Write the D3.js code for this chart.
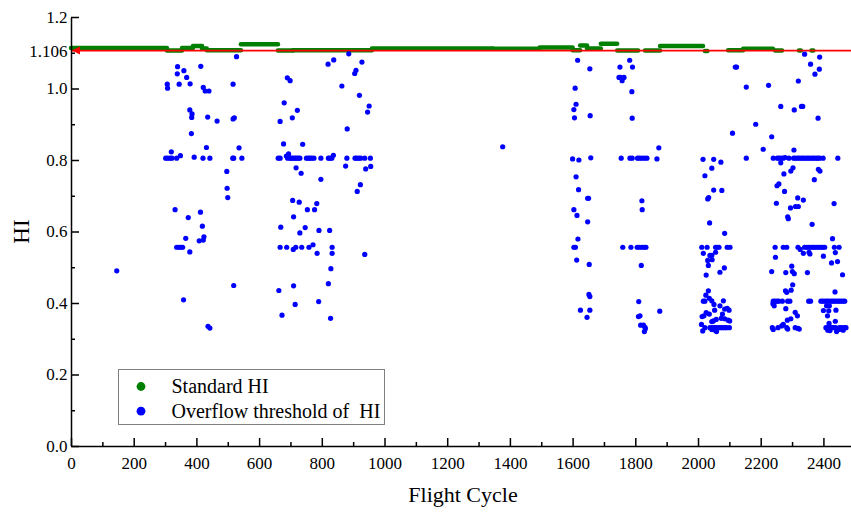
<!DOCTYPE html>
<html>
<head>
<meta charset="utf-8">
<script src="https://cdn.jsdelivr.net/npm/d3@7"></script>
<style>
  body { margin: 0; background: #fff; }
  text { font-family: "Liberation Serif", "Times New Roman", serif; fill: #000; }
</style>
</head>
<body>
<svg id="chart" width="851" height="512"></svg>
<script>
// DATA --------------------------------------------------------------------------
const threshold = 1.106;
const yMajorTicks = [0, 0.2, 0.4, 0.6, 0.8, 1.0, 1.2];
const yMinorTicks = [0.1, 0.3, 0.5, 0.7, 0.9, 1.1];
const xMajorTicks = [0, 200, 400, 600, 800, 1000, 1200, 1400, 1600, 1800, 2000, 2200, 2400];
const xMinorTicks = [100, 300, 500, 700, 900, 1100, 1300, 1500, 1700, 1900, 2100, 2300];
const legendLabels = ["Standard HI", "Overflow threshold of  HI"];

// Standard HI: dense runs of points, read as [from cycle, to cycle, HI]
const standardHI = [
  [0, 306, 1.113], [306, 354, 1.106], [354, 389, 1.113], [389, 418, 1.119],
  [418, 433, 1.112], [433, 542, 1.107], [542, 660, 1.124], [660, 708, 1.106],
  [708, 960, 1.107], [960, 1345, 1.112], [1345, 1495, 1.111], [1495, 1600, 1.115],
  [1600, 1624, 1.107], [1624, 1646, 1.120], [1646, 1690, 1.112], [1690, 1742, 1.125],
  [1742, 1809, 1.106], [1831, 1879, 1.106], [1879, 2016, 1.119], [2022, 2030, 1.105],
  [2096, 2144, 1.107], [2144, 2239, 1.111], [2246, 2268, 1.106], [2322, 2328, 1.106],
  [2362, 2368, 1.106]
];

// Overflow threshold of HI, one array per group of flight cycles: [cycle, HI]
const overflowA = [
  [146, 0.490], [528, 1.089], [340, 1.061], [414, 1.062], [360, 1.050], [339, 1.041],
  [369, 1.031], [307, 1.012], [308, 1.001], [345, 1.012], [380, 1.013], [517, 1.012],
  [422, 1.003], [428, 0.993], [440, 0.993], [379, 0.940], [386, 0.929], [385, 0.919],
  [436, 0.920], [466, 0.909], [517, 0.915], [521, 0.918], [384, 0.874], [432, 0.835],
  [320, 0.823], [536, 0.834], [349, 0.812], [302, 0.805], [308, 0.805], [316, 0.805],
  [322, 0.805], [337, 0.805], [393, 0.808], [421, 0.805], [443, 0.805], [516, 0.805],
  [519, 0.805], [545, 0.805], [497, 0.768], [498, 0.721], [500, 0.695], [332, 0.661],
  [413, 0.654], [374, 0.639], [419, 0.615], [366, 0.581], [424, 0.585], [422, 0.576],
  [409, 0.574], [337, 0.556], [344, 0.556], [350, 0.556], [356, 0.556], [379, 0.543],
  [519, 0.449], [359, 0.409], [437, 0.335], [443, 0.330]
];
const overflowB = [
  [886, 1.097], [820, 1.068], [838, 1.080], [928, 1.074], [909, 1.051], [905, 1.042],
  [690, 1.030], [699, 1.022], [864, 1.007], [920, 0.981], [680, 0.960], [951, 0.951],
  [946, 0.934], [722, 0.939], [706, 0.918], [667, 0.908], [881, 0.887], [678, 0.845],
  [739, 0.844], [694, 0.817], [687, 0.811], [837, 0.813],
  [661, 0.805], [667, 0.805], [691, 0.805], [699, 0.805], [704, 0.805], [709, 0.805],
  [715, 0.805], [720, 0.805], [725, 0.805], [730, 0.805], [751, 0.805], [757, 0.805],
  [762, 0.805], [768, 0.805], [775, 0.805], [797, 0.805], [821, 0.805], [826, 0.805],
  [832, 0.805], [880, 0.805], [906, 0.805], [911, 0.805], [918, 0.805], [924, 0.805],
  [937, 0.805], [955, 0.805],
  [718, 0.778], [734, 0.763], [876, 0.783], [956, 0.782], [940, 0.775], [797, 0.746],
  [923, 0.731], [913, 0.712], [707, 0.687], [728, 0.682], [784, 0.678], [754, 0.661],
  [777, 0.661], [710, 0.641], [669, 0.612], [747, 0.611], [730, 0.596], [791, 0.603],
  [825, 0.603], [667, 0.556], [688, 0.556], [717, 0.556], [736, 0.556], [759, 0.556],
  [833, 0.556], [709, 0.550], [772, 0.563], [785, 0.539], [833, 0.539], [937, 0.536],
  [829, 0.496], [821, 0.454], [710, 0.448], [663, 0.435], [790, 0.404], [715, 0.396],
  [673, 0.366], [828, 0.357]
];
const overflowC = [[1377, 0.837]];
const overflowD = [
  [1616, 1.079], [1655, 1.055], [1608, 1.001], [1611, 0.956], [1604, 0.941], [1606, 0.918],
  [1656, 0.924], [1600, 0.803], [1620, 0.800], [1658, 0.806], [1611, 0.753], [1619, 0.717],
  [1648, 0.693], [1651, 0.693], [1604, 0.661], [1614, 0.645], [1648, 0.627], [1617, 0.579],
  [1604, 0.556], [1609, 0.556], [1613, 0.520], [1653, 0.508], [1652, 0.424], [1655, 0.418],
  [1625, 0.380], [1655, 0.380], [1646, 0.360]
];
const overflowE = [
  [1782, 1.079], [1751, 1.060], [1791, 1.060], [1748, 1.031], [1753, 1.031], [1764, 1.031],
  [1758, 1.022], [1789, 0.991], [1790, 0.917], [1875, 0.834], [1869, 0.803],
  [1755, 0.805], [1783, 0.805], [1790, 0.805], [1807, 0.805], [1813, 0.805], [1821, 0.805],
  [1829, 0.805], [1837, 0.805], [1821, 0.686], [1822, 0.661],
  [1760, 0.556], [1786, 0.556], [1806, 0.556], [1813, 0.556], [1821, 0.556], [1828, 0.556],
  [1834, 0.556], [1819, 0.505], [1811, 0.404], [1878, 0.377], [1810, 0.362], [1815, 0.364],
  [1817, 0.338], [1826, 0.338], [1831, 0.332], [1829, 0.320], [1832, 0.328]
];
const overflowF = [
  [2119, 1.060], [2123, 1.060], [2154, 1.004], [2110, 0.875], [2016, 0.802], [2050, 0.802],
  [2073, 0.794], [2154, 0.805], [2044, 0.777], [2022, 0.756], [2050, 0.716], [2076, 0.715],
  [2031, 0.691], [2034, 0.695], [2037, 0.624], [2085, 0.595],
  [2012, 0.556], [2029, 0.556], [2056, 0.556], [2061, 0.556], [2067, 0.556], [2093, 0.556],
  [2102, 0.556], [2017, 0.539], [2056, 0.542], [2038, 0.533], [2044, 0.533], [2045, 0.521],
  [2031, 0.519], [2033, 0.505], [2084, 0.498], [2070, 0.486], [2026, 0.478],
  [2033, 0.434], [2025, 0.422], [2036, 0.413], [2044, 0.406], [2017, 0.405], [2022, 0.405],
  [2051, 0.396], [2081, 0.406], [2070, 0.392], [2093, 0.385], [2099, 0.380], [2085, 0.383],
  [2053, 0.380], [2026, 0.373], [2036, 0.369], [2078, 0.369], [2013, 0.362], [2019, 0.364],
  [2058, 0.354], [2049, 0.350], [2044, 0.348], [2074, 0.357], [2085, 0.356], [2096, 0.352],
  [2101, 0.350], [2011, 0.340], [2022, 0.331],
  [2038, 0.331], [2046, 0.331], [2053, 0.331], [2059, 0.331], [2066, 0.331], [2072, 0.331],
  [2078, 0.331], [2085, 0.331], [2091, 0.331], [2100, 0.331],
  [2051, 0.325], [2059, 0.320], [2015, 0.322], [2044, 0.326]
];
const overflowG = [
  [2340, 1.096], [2388, 1.088], [2359, 1.068], [2387, 1.054], [2373, 1.040], [2320, 1.021],
  [2225, 1.009], [2264, 0.950], [2330, 0.950], [2334, 0.950], [2307, 0.940], [2383, 0.917],
  [2184, 0.900], [2235, 0.865], [2208, 0.830], [2306, 0.828], [2278, 0.807],
  [2240, 0.805], [2253, 0.805], [2259, 0.805], [2266, 0.805], [2272, 0.805], [2290, 0.805],
  [2305, 0.805], [2311, 0.805], [2318, 0.805], [2324, 0.805], [2331, 0.805], [2337, 0.805],
  [2344, 0.805], [2350, 0.805], [2356, 0.805], [2363, 0.805], [2369, 0.805], [2376, 0.805],
  [2382, 0.805], [2388, 0.805], [2399, 0.805], [2446, 0.805],
  [2264, 0.792], [2303, 0.778], [2296, 0.769], [2384, 0.774], [2389, 0.769], [2274, 0.761],
  [2371, 0.745], [2258, 0.733], [2252, 0.728], [2276, 0.712], [2318, 0.694], [2336, 0.688],
  [2250, 0.679], [2295, 0.666], [2311, 0.670], [2320, 0.670], [2434, 0.678], [2286, 0.641],
  [2288, 0.636], [2364, 0.620],
  [2246, 0.556], [2272, 0.556], [2283, 0.556], [2319, 0.556], [2340, 0.556], [2347, 0.556],
  [2353, 0.556], [2360, 0.556], [2366, 0.556], [2372, 0.556], [2379, 0.556], [2385, 0.556],
  [2392, 0.556], [2398, 0.556], [2404, 0.556], [2435, 0.556], [2450, 0.556],
  [2326, 0.550], [2336, 0.539], [2354, 0.542], [2357, 0.537], [2429, 0.580], [2438, 0.541],
  [2400, 0.531], [2247, 0.528], [2445, 0.516], [2426, 0.512], [2235, 0.488], [2280, 0.485],
  [2299, 0.503], [2301, 0.488], [2307, 0.482], [2349, 0.485], [2461, 0.479], [2302, 0.451],
  [2279, 0.434], [2283, 0.430], [2297, 0.436], [2437, 0.431],
  [2240, 0.405], [2246, 0.405], [2252, 0.405], [2258, 0.405], [2269, 0.405], [2286, 0.405],
  [2293, 0.405], [2353, 0.405], [2359, 0.405], [2392, 0.405], [2398, 0.405], [2405, 0.405],
  [2411, 0.405], [2417, 0.405], [2424, 0.405], [2430, 0.405], [2436, 0.405], [2443, 0.405],
  [2449, 0.405], [2455, 0.405], [2462, 0.405], [2468, 0.405],
  [2239, 0.398], [2243, 0.392], [2419, 0.392], [2410, 0.392], [2400, 0.379], [2417, 0.378],
  [2440, 0.380], [2280, 0.384], [2310, 0.374], [2317, 0.364], [2413, 0.364], [2296, 0.356],
  [2285, 0.352], [2438, 0.349], [2418, 0.343], [2272, 0.340], [2255, 0.331], [2237, 0.331],
  [2240, 0.326], [2267, 0.336], [2283, 0.331], [2286, 0.327], [2310, 0.331], [2319, 0.329],
  [2323, 0.327],
  [2408, 0.331], [2414, 0.331], [2420, 0.331], [2427, 0.331], [2433, 0.331], [2439, 0.331],
  [2451, 0.331], [2458, 0.331], [2466, 0.331], [2472, 0.331],
  [2414, 0.324], [2421, 0.323], [2442, 0.320], [2450, 0.326], [2463, 0.324]
];

const overflowHI = [overflowA, overflowB, overflowC, overflowD, overflowE, overflowF, overflowG].flat();

// CHART --------------------------------------------------------------------------
const svg = d3.select("#chart");
const width = +svg.attr("width");
const margin = { top: 17, left: 71, bottom: 66 };
const height = +svg.attr("height");

const xScale = d3.scaleLinear().domain([0, 2488]).range([margin.left, width]);
const yScale = d3.scaleLinear().domain([0, 1.2]).range([height - margin.bottom, margin.top]);

const green = "#008000";
const blue = "#0000ff";

// standard HI band
svg.append("g")
    .selectAll("line")
    .data(standardHI)
    .enter()
    .append("line")
    .attr("x1", d => xScale(d[0]))
    .attr("x2", d => xScale(d[1]))
    .attr("y1", d => yScale(d[2]))
    .attr("y2", d => yScale(d[2]))
    .attr("stroke", green)
    .attr("stroke-width", 4.5)
    .attr("stroke-linecap", "round");

// threshold line + marker
svg.append("line")
    .attr("x1", xScale(0))
    .attr("x2", xScale.range()[1])
    .attr("y1", yScale(threshold))
    .attr("y2", yScale(threshold))
    .attr("stroke", "#ff0000")
    .attr("stroke-width", 1.8);

const tx = xScale(0), ty = yScale(threshold);
svg.append("path")
    .attr("d", `M${tx + 1},${ty} L${tx + 9},${ty - 4} L${tx + 9},${ty + 4} Z`)
    .attr("fill", "#ff0000");

// overflow points
svg.append("g")
    .selectAll("circle")
    .data(overflowHI)
    .enter()
    .append("circle")
    .attr("cx", d => xScale(d[0]))
    .attr("cy", d => yScale(d[1]))
    .attr("r", 2.6)
    .attr("fill", blue);

// AXES --------------------------------------------------------------------------
const axisStyle = g => {
    g.selectAll("path, line").attr("stroke", "#000").attr("stroke-width", 1.5);
    g.selectAll("text").attr("font-size", 17).attr("fill", "#000")
        .style("font-family", '"Liberation Serif", "Times New Roman", serif');
};

svg.append("g")
    .attr("transform", `translate(0,${yScale(0)})`)
    .call(d3.axisBottom(xScale).tickValues(xMajorTicks).tickSize(-8).tickSizeOuter(0)
        .tickPadding(11).tickFormat(d3.format("d")))
    .call(axisStyle);

svg.append("g")
    .attr("transform", `translate(0,${yScale(0)})`)
    .call(d3.axisBottom(xScale).tickValues(xMinorTicks).tickSize(-4).tickSizeOuter(0).tickFormat(""))
    .call(axisStyle)
    .select(".domain").remove();

const yAxis = svg.append("g")
    .attr("transform", `translate(${xScale(0)},0)`)
    .call(d3.axisLeft(yScale).tickValues(yMajorTicks.concat([threshold]))
        .tickSize(-8).tickSizeOuter(0).tickPadding(3.5)
        .tickFormat(d => d === threshold ? "1.106" : d3.format(".1f")(d)))
    .call(axisStyle);
yAxis.selectAll(".tick").filter(d => d === threshold).select("line").remove();

svg.append("g")
    .attr("transform", `translate(${xScale(0)},0)`)
    .call(d3.axisLeft(yScale).tickValues(yMinorTicks).tickSize(-4).tickSizeOuter(0).tickFormat(""))
    .call(axisStyle)
    .select(".domain").remove();

// axis titles
svg.append("text")
    .attr("x", 463)
    .attr("y", 502)
    .attr("text-anchor", "middle")
    .attr("font-size", 22)
    .text("Flight Cycle");

svg.append("text")
    .attr("transform", `translate(29,${yScale(0.6)}) rotate(-90)`)
    .attr("text-anchor", "middle")
    .attr("font-size", 23)
    .text("HI");

// LEGEND --------------------------------------------------------------------------
const legend = svg.append("g");
legend.append("rect")
    .attr("x", 118.5).attr("y", 369.5)
    .attr("width", 266).attr("height", 55)
    .attr("fill", "#fff")
    .attr("stroke", "#808080")
    .attr("stroke-width", 1);

legendLabels.forEach((label, i) => {
    const cy = 386.5 + i * 24.7;
    legend.append("circle")
        .attr("cx", 141).attr("cy", cy).attr("r", 4.4)
        .attr("fill", i === 0 ? green : blue);
    legend.append("text")
        .attr("x", 171.5).attr("y", cy + 6.5)
        .attr("font-size", 20)
        .attr("xml:space", "preserve")
        .style("white-space", "pre")
        .text(label);
});
</script>
</body>
</html>
